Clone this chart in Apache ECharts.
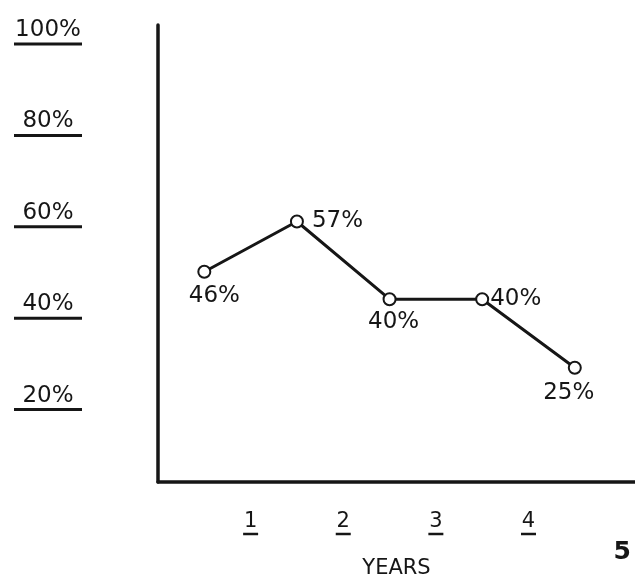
<!DOCTYPE html>
<html>
<head>
<meta charset="utf-8">
<script src="https://cdn.jsdelivr.net/npm/echarts@6/dist/echarts.min.js"></script>
<style>
  html, body { margin: 0; padding: 0; background: #fff; }
  #chart { width: 635px; height: 580px; }
</style>
</head>
<body>
<div id="chart"></div>
<script>
// data
const yearPos = [0.5, 1.5, 2.5, 3.5, 4.5];
const rates = [46, 57, 40, 40, 25];
const rateLabelPos = ['bottom', 'right', 'bottom', 'right', 'bottom'];
const yearTicks = [1, 2, 3, 4];
const pctTicks = [20, 40, 60, 80, 100];

const ink = '#161616';
const font = '"DejaVu Sans", sans-serif';

// per-point label tweaks so they sit like the hand lettering
const labelTweak = [
  { distance: 6, offset: [10, 0] },
  { distance: 6, offset: [2, 0] },
  { distance: 4, offset: [4, 0] },
  { distance: 1, offset: [0, 0] },
  { distance: 7, offset: [-6, 0] }
];

const chart = echarts.init(document.getElementById('chart'));

const points = yearPos.map((x, i) => ({
  value: [x, rates[i]],
  label: {
    show: true,
    position: rateLabelPos[i],
    distance: labelTweak[i].distance,
    offset: labelTweak[i].offset
  }
}));

const option = {
  backgroundColor: '#fff',
  animation: false,
  grid: { left: 158, right: 0, top: 25, bottom: 98, outerBoundsMode: 'none' },
  xAxis: {
    type: 'value',
    min: 0,
    max: 5.15,
    interval: 1,
    name: 'YEARS',
    nameLocation: 'middle',
    nameGap: 76,
    nameTextStyle: { color: ink, fontSize: 21, fontFamily: font },
    axisLine: { show: true, lineStyle: { color: ink, width: 3.5 } },
    axisTick: { show: false },
    splitLine: { show: false },
    axisLabel: {
      margin: 30,
      formatter: v => yearTicks.includes(v) ? '{t|' + v + '}\n{u| }' : '',
      rich: {
        t: { fontSize: 21, fontFamily: font, color: ink, lineHeight: 20 },
        u: { width: 15, height: 2.5, lineHeight: 4, backgroundColor: ink }
      }
    }
  },
  yAxis: {
    type: 'value',
    min: 0,
    max: 100,
    interval: 20,
    axisLine: { show: true, lineStyle: { color: ink, width: 3.5 } },
    axisTick: { show: false },
    splitLine: { show: false },
    axisLabel: {
      margin: 110,
      align: 'center',
      formatter: v => pctTicks.includes(v) ? '{s| }\n{t|' + v + '%}\n{u| }' : '',
      rich: {
        s: { height: 3, lineHeight: 16 },
        t: { fontSize: 23, fontFamily: font, color: ink, lineHeight: 22 },
        u: { width: 68, height: 3, lineHeight: 6, backgroundColor: ink }
      }
    }
  },
  series: [{
    type: 'line',
    data: points,
    symbol: 'emptyCircle',
    symbolSize: 12,
    lineStyle: { color: ink, width: 3 },
    itemStyle: { color: ink, borderColor: ink, borderWidth: 2.5 },
    label: { color: ink, fontSize: 23, fontFamily: font, formatter: p => p.value[1] + '%' }
  }],
  graphic: [{
    type: 'text',
    right: 4,
    top: 540,
    style: { text: '5', fill: ink, font: 'bold 25px ' + font }
  }]
};

chart.setOption(option);
</script>
</body>
</html>
